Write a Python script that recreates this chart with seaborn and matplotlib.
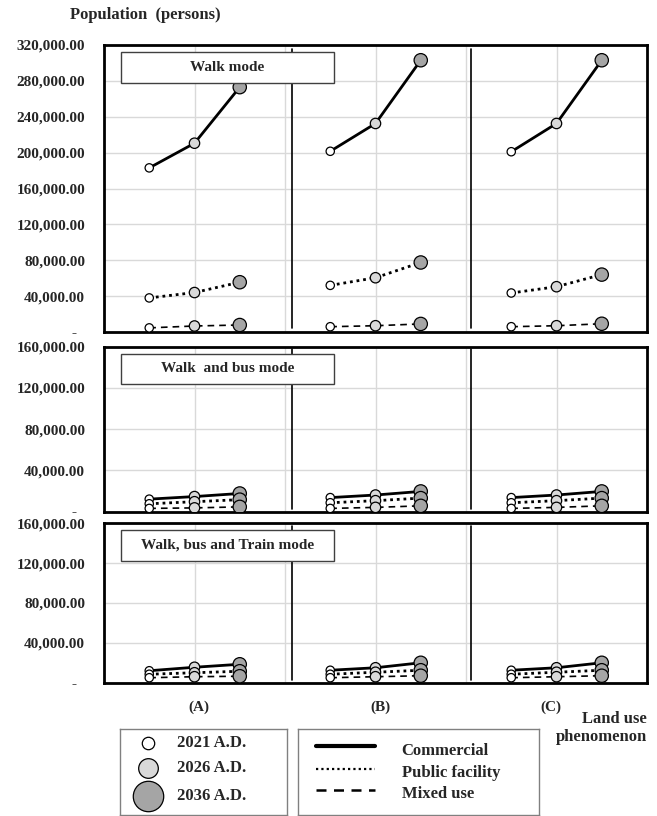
import matplotlib
matplotlib.use("Agg")
import matplotlib.pyplot as plt
from matplotlib.patches import Rectangle
from matplotlib.lines import Line2D
from matplotlib.ticker import FuncFormatter, MultipleLocator
import pandas as pd
import seaborn as sns

# ---------------------------------------------------------------- data
areas = ["(A)", "(B)", "(C)"]
years = ["2021 A.D.", "2026 A.D.", "2036 A.D."]
land_uses = ["Commercial", "Public facility", "Mixed use"]
modes = ["Walk mode", "Walk  and bus mode", "Walk, bus and Train mode"]

# population (persons), listed area by area (A, B, C), three years each
walk_commercial = [183000, 210500, 273000, 201500, 232500, 303000, 201000, 232500, 303000]
walk_public = [38000, 44000, 55500, 52000, 60500, 77500, 43500, 50500, 64000]
walk_mixed = [4600, 6700, 7800, 5900, 7000, 9000, 5900, 7000, 9200]

bus_commercial = [12000, 14500, 17500, 13500, 16000, 19500, 13500, 16000, 19500]
bus_public = [7500, 9500, 11500, 8500, 10500, 13000, 8500, 10500, 13000]
bus_mixed = [3000, 3500, 4500, 3000, 4000, 5500, 3000, 4000, 5500]

train_commercial = [12000, 15500, 18500, 12500, 15000, 20000, 12500, 15000, 20000]
train_public = [8500, 10000, 11500, 8500, 10500, 12500, 8500, 10500, 12500]
train_mixed = [5000, 6000, 6500, 5000, 6000, 7000, 5000, 6000, 7000]

panel_series = [
    (walk_commercial, walk_public, walk_mixed),
    (bus_commercial, bus_public, bus_mixed),
    (train_commercial, train_public, train_mixed),
]
panel_ymax = [320000, 160000, 160000]

# ---------------------------------------------------------------- style
sns.set_style("white")
plt.rcParams["font.family"] = ["Liberation Serif", "DejaVu Serif"]
plt.rcParams["font.weight"] = "bold"

year_colors = {"2021 A.D.": "#ffffff", "2026 A.D.": "#d9d9d9", "2036 A.D.": "#a5a5a5"}
year_sizes = {"2021 A.D.": 36, "2026 A.D.": 56, "2036 A.D.": 92}
line_styles = {
    "Commercial": dict(lw=2.0, ls="-"),
    "Public facility": dict(lw=2.0, ls=(0, (1, 1.4))),
    "Mixed use": dict(lw=1.2, ls=(0, (4, 3))),
}
GRID = "#d9d9d9"

W, H = 657, 816
fig = plt.figure(figsize=(W / 100, H / 100), dpi=100)


def fx(px):
    return px / W


def fy(py):
    return 1 - py / H


def long_table(series):
    rows = []
    for lu, vals in zip(land_uses, series):
        for ai, area in enumerate(areas):
            for yi, year in enumerate(years):
                rows.append({"area": area, "year": year, "land_use": lu,
                             "pos": ai * 4 + yi + 1,
                             "population": vals[ai * 3 + yi]})
    return pd.DataFrame(rows)


def fmt(v, _):
    return "-  " if v == 0 else f"{v:,.2f}"


# panel frames in pixel rows: (top, bottom)
panel_rows = [(45, 332), (346.7, 511.5), (523.3, 682.7)]
box_rows = [(52, 83), (354, 384), (530, 561)]
left_px, right_px = 104, 647

for k, (series, ymax, (top, bot), mode) in enumerate(
        zip(panel_series, panel_ymax, panel_rows, modes)):
    ax = fig.add_axes([fx(left_px), fy(bot), fx(right_px) - fx(left_px), fy(top) - fy(bot)])
    df = long_table(series)

    for lu in land_uses:
        sub = df[df["land_use"] == lu]
        sns.lineplot(data=sub, x="pos", y="population", units="area", estimator=None,
                     color="black", ax=ax, legend=False, zorder=2,
                     **line_styles[lu])

    sns.scatterplot(data=df, x="pos", y="population", hue="year", palette=year_colors,
                    size="year", sizes=year_sizes, edgecolor="black", linewidth=0.9,
                    legend=False, ax=ax, zorder=3)

    ax.set_xlim(0, 12)
    ax.set_ylim(0, ymax)
    ax.yaxis.set_major_locator(MultipleLocator(40000))
    ax.yaxis.set_major_formatter(FuncFormatter(fmt))
    ax.set_xticks([2, 4, 6, 8, 10])
    ax.set_xticklabels([])
    ax.grid(True, color=GRID, lw=1.0)
    ax.set_axisbelow(True)
    ax.tick_params(axis="both", length=0)
    ax.tick_params(axis="y", pad=13.5, labelsize=11)
    for lab in ax.get_yticklabels():
        lab.set_fontweight("bold")
    ax.set_xlabel("")
    ax.set_ylabel("")
    for sp in ax.spines.values():
        sp.set_visible(True)
        sp.set_color("black")
        sp.set_linewidth(2.0)

    # separators between land-use areas
    for xs in (4.15, 8.1):
        ax.axvline(xs, ymin=0.015, ymax=0.985, color="black", lw=1.2, zorder=1.5)

    # mode caption box
    b_top, b_bot = box_rows[k]
    fig.patches.append(Rectangle((fx(121), fy(b_bot)), fx(334) - fx(121), fy(b_top) - fy(b_bot),
                                 transform=fig.transFigure, facecolor="white",
                                 edgecolor="#404040", lw=1.0, zorder=5))
    fig.text(fx(227.5), fy((b_top + b_bot) / 2), mode, ha="center", va="center",
             fontsize=11, fontweight="bold", zorder=6)

fig.text(fx(70), fy(15), "Population  (persons)", ha="left", va="center",
         fontsize=12, fontweight="bold")

for area, px in zip(areas, [199, 380, 551]):
    fig.text(fx(px), fy(707), area, ha="center", va="center", fontsize=11, fontweight="bold")

fig.text(fx(647), fy(728), "Land use\nphenomenon", ha="right", va="center",
         multialignment="right", fontsize=12, fontweight="bold", linespacing=1.15)

# ---------------------------------------------------------------- legends
leg1 = fig.add_axes([fx(120), fy(815), fx(287) - fx(120), fy(729) - fy(815)])
leg2 = fig.add_axes([fx(298), fy(815), fx(539) - fx(298), fy(729) - fy(815)])
for lg in (leg1, leg2):
    lg.set_xlim(0, 1)
    lg.set_ylim(0, 1)
    lg.set_xticks([])
    lg.set_yticks([])
    for sp in lg.spines.values():
        sp.set_visible(True)
        sp.set_color("#808080")
        sp.set_linewidth(1.0)

leg_rows = [0.84, 0.55, 0.22]
leg_sizes = {"2021 A.D.": 80, "2026 A.D.": 200, "2036 A.D.": 480}
for year, yy in zip(years, leg_rows):
    leg1.scatter([0.17], [yy], s=leg_sizes[year], color=year_colors[year],
                 edgecolor="black", linewidth=0.9, clip_on=False)
    leg1.text(0.34, yy, year, ha="left", va="center", fontsize=12, fontweight="bold")

line_rows = [0.80, 0.54, 0.29]
text_rows = [0.74, 0.49, 0.25]
for lu, ly, ty in zip(land_uses, line_rows, text_rows):
    st = line_styles[lu]
    lw = 3.0 if lu == "Commercial" else (1.6 if lu == "Public facility" else 1.8)
    leg2.add_line(Line2D([0.075, 0.32], [ly, ly], color="black", lw=lw, ls=st["ls"]))
    leg2.text(0.43, ty, lu, ha="left", va="center", fontsize=12, fontweight="bold")

fig.savefig("out.png", dpi=100)
